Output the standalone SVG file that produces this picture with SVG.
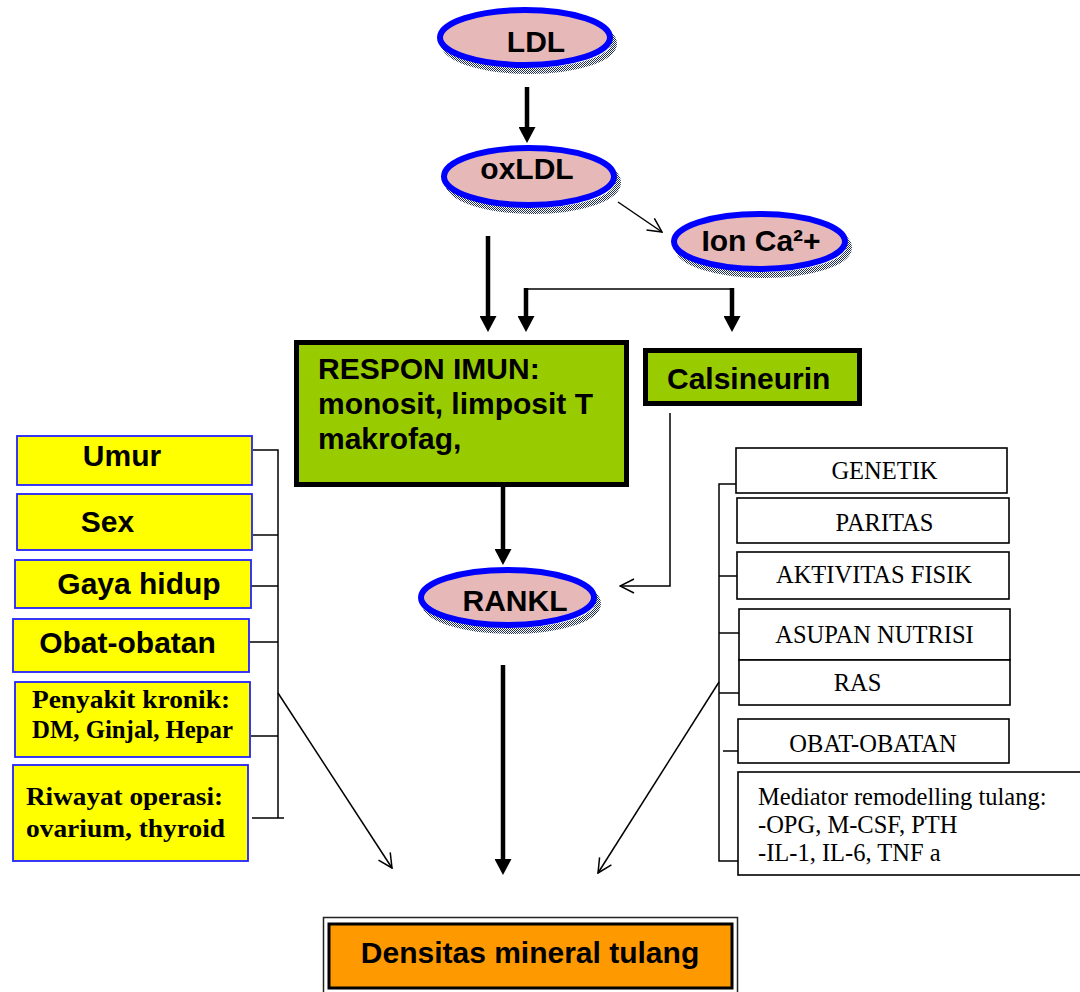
<svg xmlns="http://www.w3.org/2000/svg" width="1080" height="992" viewBox="0 0 1080 992">
<style>
.ell{fill:#E6B8B7;stroke:#0000FF;stroke-width:6}
.shd{fill:none;stroke:url(#chk);stroke-width:6}
.bt{font-family:"Liberation Sans",Arial,sans-serif;font-weight:bold;font-size:30px;fill:#000}
.grn{fill:#99CC00;stroke:#000;stroke-width:5}
.yb{fill:#FFFF00;stroke:#2222FF;stroke-width:1.8}
.wb{fill:#FFFFFF;stroke:#000;stroke-width:1.6}
.st{font-family:"Liberation Serif","Times New Roman",serif;font-size:24.5px;fill:#000}
.sb{font-family:"Liberation Serif","Times New Roman",serif;font-weight:bold;font-size:26px;fill:#000}
.thick{stroke:#000;stroke-width:4.5;fill:none}
.thin{stroke:#000;stroke-width:1.5;fill:none}
.mid{text-anchor:middle}
</style>
<defs>
<pattern id="chk" width="2" height="2" patternUnits="userSpaceOnUse">
<rect width="2" height="2" fill="#FFFFFF"/>
<rect width="1" height="1" fill="#1F3050"/>
<rect x="1" y="1" width="1" height="1" fill="#1F3050"/>
</pattern>
<marker id="fh" viewBox="0 0 16 17" markerWidth="16" markerHeight="17" refX="0" refY="8.5" orient="auto" markerUnits="userSpaceOnUse">
<path d="M0,0 L16,8.5 L0,17 z" fill="#000"/>
</marker>
<marker id="oh" viewBox="-1 -1 16 16" markerWidth="16" markerHeight="16" refX="14" refY="7" orient="auto" markerUnits="userSpaceOnUse">
<path d="M0,0 L14,7 L0,14" fill="none" stroke="#000" stroke-width="1.5"/>
</marker>
</defs>
<rect width="1080" height="992" fill="#FFFFFF"/>

<g id="connectors">
<line class="thick" x1="527" y1="87" x2="527" y2="127" marker-end="url(#fh)"/>
<line class="thin" x1="618" y1="202" x2="662" y2="232" marker-end="url(#oh)"/>
<line class="thick" x1="488" y1="236" x2="488" y2="316" marker-end="url(#fh)"/>
<line class="thin" x1="526" y1="289" x2="733" y2="289"/>
<line class="thick" x1="526" y1="288" x2="526" y2="316" marker-end="url(#fh)"/>
<line class="thick" x1="732" y1="288" x2="732" y2="316" marker-end="url(#fh)"/>
<line class="thick" x1="503" y1="487" x2="503" y2="549" marker-end="url(#fh)"/>
<polyline class="thin" points="670,413 670,586 620,586" marker-end="url(#oh)"/>
<line class="thick" x1="503" y1="665" x2="503" y2="859" marker-end="url(#fh)"/>
<line class="thin" x1="278" y1="693" x2="392" y2="868" marker-end="url(#oh)"/>
<line class="thin" x1="719" y1="682" x2="598" y2="873" marker-end="url(#oh)"/>
<polyline class="thin" points="253,450 278,450 278,818"/>
<line class="thin" x1="253" y1="535" x2="278" y2="535"/>
<line class="thin" x1="250" y1="586" x2="278" y2="586"/>
<line class="thin" x1="250" y1="642" x2="278" y2="642"/>
<line class="thin" x1="251" y1="736" x2="278" y2="736"/>
<line class="thin" x1="252" y1="818" x2="284" y2="818"/>
<polyline class="thin" points="736,484 719,484 719,861 739,861"/>
<line class="thin" x1="719" y1="576" x2="737" y2="576"/>
<line class="thin" x1="719" y1="633" x2="739" y2="633"/>
<line class="thin" x1="719" y1="693" x2="739" y2="693"/>
<line class="thin" x1="723" y1="751" x2="738" y2="751"/>
</g>

<g id="ldl">
<ellipse class="shd" cx="529" cy="43.5" rx="85" ry="27.5"/>
<ellipse class="ell" cx="525" cy="37.5" rx="85" ry="27.5"/>
<text class="bt mid" x="536" y="52">LDL</text>
</g>
<g id="oxldl">
<ellipse class="shd" cx="533" cy="182.5" rx="85" ry="28.5"/>
<ellipse class="ell" cx="529" cy="176.5" rx="85" ry="28.5"/>
<text class="bt mid" x="527" y="179">oxLDL</text>
</g>
<g id="ionca">
<ellipse class="shd" cx="763.5" cy="247.5" rx="85.5" ry="27.5"/>
<ellipse class="ell" cx="759.5" cy="241.5" rx="85.5" ry="27.5"/>
<text class="bt mid" x="761" y="251">Ion Ca²+</text>
</g>
<g id="respon">
<rect class="grn" x="296.5" y="342.5" width="330" height="142"/>
<text class="bt" x="318" y="379">RESPON IMUN:</text>
<text class="bt" x="318" y="414">monosit, limposit T</text>
<text class="bt" x="318" y="449">makrofag,</text>
</g>
<g id="calsineurin">
<rect class="grn" x="645.5" y="350.5" width="214" height="53"/>
<text class="bt" x="667" y="389">Calsineurin</text>
</g>
<g id="rankl">
<ellipse class="shd" cx="511.5" cy="603.5" rx="86.5" ry="27.5"/>
<ellipse class="ell" cx="507.5" cy="597.5" rx="86.5" ry="27.5"/>
<text class="bt mid" x="515" y="611">RANKL</text>
</g>
<g id="densitas">
<rect x="323.5" y="917.5" width="414" height="80" fill="#FFFFFF" stroke="#222" stroke-width="1.5"/>
<rect x="329" y="924" width="403" height="64" fill="#FF9900" stroke="#000" stroke-width="3"/>
<text class="bt mid" x="530" y="963">Densitas mineral tulang</text>
</g>

<g id="umur">
<rect class="yb" x="17" y="436" width="235" height="49"/>
<text class="bt mid" x="122" y="466">Umur</text>
</g>
<g id="sex">
<rect class="yb" x="17" y="494" width="235" height="56"/>
<text class="bt mid" x="107.5" y="532">Sex</text>
</g>
<g id="gaya">
<rect class="yb" x="15" y="560" width="236" height="48"/>
<text class="bt mid" x="139" y="594">Gaya hidup</text>
</g>
<g id="obat">
<rect class="yb" x="13" y="619" width="236" height="53"/>
<text class="bt mid" x="127.5" y="653">Obat-obatan</text>
</g>
<g id="penyakit">
<rect class="yb" x="15" y="682" width="235" height="75"/>
<text class="sb" x="32" y="708" textLength="198" lengthAdjust="spacingAndGlyphs">Penyakit kronik:</text>
<text class="sb" x="32" y="738" textLength="201" lengthAdjust="spacingAndGlyphs">DM, Ginjal, Hepar</text>
</g>
<g id="riwayat">
<rect class="yb" x="13" y="765" width="235" height="96"/>
<text class="sb" x="26" y="805" textLength="197" lengthAdjust="spacingAndGlyphs">Riwayat operasi:</text>
<text class="sb" x="26" y="837" textLength="199" lengthAdjust="spacingAndGlyphs">ovarium, thyroid</text>
</g>

<g id="genetik">
<rect class="wb" x="736" y="448" width="271" height="45"/>
<text class="st mid" x="884.5" y="479">GENETIK</text>
</g>
<g id="paritas">
<rect class="wb" x="737" y="498" width="272" height="45"/>
<text class="st mid" x="884.5" y="531">PARITAS</text>
</g>
<g id="aktivitas">
<rect class="wb" x="737" y="552" width="272" height="47"/>
<text class="st mid" x="874" y="583">AKŦIVITAS FISIK</text>
</g>
<g id="asupan">
<rect class="wb" x="739" y="609" width="271" height="51"/>
<text class="st mid" x="874.5" y="643">ASUPAN NUTRISI</text>
</g>
<g id="ras">
<rect class="wb" x="739" y="660" width="271" height="45"/>
<text class="st mid" x="857.5" y="691">RAS</text>
</g>
<g id="obat2">
<rect class="wb" x="738" y="719" width="271" height="44"/>
<text class="st mid" x="873" y="752">OBAT-OBATAN</text>
</g>
<g id="mediator">
<rect class="wb" x="738" y="772" width="360" height="103"/>
<text class="st" x="758" y="805">Mediator remodelling tulang:</text>
<text class="st" x="758" y="833">-OPG, M-CSF, PTH</text>
<text class="st" x="758" y="861">-IL-1, IL-6, TNF a</text>
</g>
</svg>
